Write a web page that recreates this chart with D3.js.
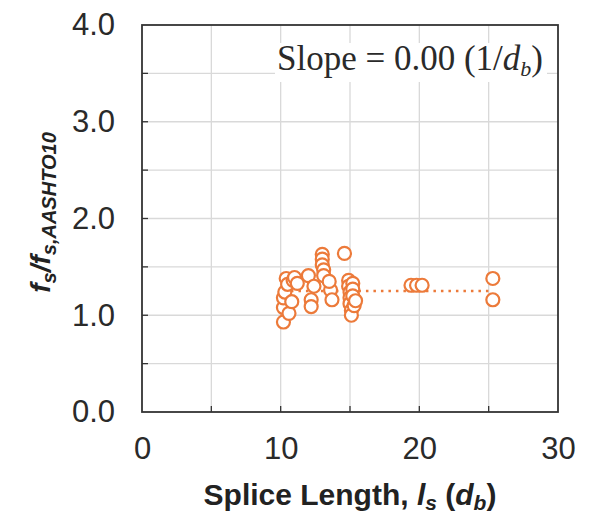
<!DOCTYPE html>
<html>
<head>
<meta charset="utf-8">
<script src="https://cdn.jsdelivr.net/npm/d3@7"></script>
<style>
  body { margin: 0; background: #fff; }
</style>
</head>
<body>
<script>
// svg size
var svgWidth = 592;
var svgHeight = 525;

// plot area
var margin = { top: 25, right: 34, bottom: 113, left: 142 };
var width = svgWidth - margin.left - margin.right;
var height = svgHeight - margin.top - margin.bottom;

// data
var spliceLength = [10.2, 10.2, 10.2, 10.3, 10.4, 10.5, 10.6, 10.8, 10.9, 11.0, 11.2,
  12.0, 12.2, 12.2, 12.4, 13.0, 13.0, 13.0, 13.1, 13.1, 13.6, 13.7, 13.5,
  14.6, 14.9, 14.9, 15.0, 15.0, 15.0, 15.1, 15.1, 15.2, 15.2, 15.2, 15.3, 15.4,
  19.4, 19.8, 20.2, 25.3, 25.3];
var stressRatio = [0.93, 1.08, 1.18, 1.24, 1.38, 1.32, 1.02, 1.14, 1.36, 1.39, 1.33,
  1.41, 1.16, 1.09, 1.30, 1.63, 1.58, 1.52, 1.47, 1.41, 1.26, 1.16, 1.35,
  1.64, 1.36, 1.30, 1.24, 1.18, 1.12, 1.05, 1.00, 1.33, 1.27, 1.20, 1.10, 1.15,
  1.31, 1.31, 1.31, 1.38, 1.16];
var trendValue = 1.25;
var trendRange = [10.2, 25.3];

var xTicks = [0, 10, 20, 30];
var xGrid = [5, 10, 15, 20, 25];
var yTicks = [0, 1, 2, 3, 4];
var yGrid = [0.5, 1, 1.5, 2, 2.5, 3, 3.5];

var orange = "#ec7a3a";
var sansFont = "'Liberation Sans', Arial, sans-serif";

var svg = d3.select("body")
  .append("svg")
  .attr("width", svgWidth)
  .attr("height", svgHeight);

var chartGroup = svg.append("g")
  .attr("transform", `translate(${margin.left}, ${margin.top})`);

var xScale = d3.scaleLinear().domain([0, 30]).range([0, width]);
var yScale = d3.scaleLinear().domain([0, 4]).range([height, 0]);

// grid lines
chartGroup.selectAll(".vgrid")
  .data(xGrid)
  .enter()
  .append("line")
  .attr("x1", d => xScale(d))
  .attr("x2", d => xScale(d))
  .attr("y1", 0)
  .attr("y2", height)
  .attr("stroke", "#d9d9d9")
  .attr("stroke-width", 1.3);

chartGroup.selectAll(".hgrid")
  .data(yGrid)
  .enter()
  .append("line")
  .attr("x1", 0)
  .attr("x2", width)
  .attr("y1", d => yScale(d))
  .attr("y2", d => yScale(d))
  .attr("stroke", "#d9d9d9")
  .attr("stroke-width", 1.3);

// slope label on a white box
chartGroup.append("rect")
  .attr("x", 133)
  .attr("y", 18)
  .attr("width", 272)
  .attr("height", 39)
  .attr("fill", "#fff");
var slopeText = chartGroup.append("text")
  .attr("x", width - 15)
  .attr("y", 45)
  .attr("text-anchor", "end")
  .attr("font-family", "'Liberation Serif', 'Times New Roman', serif")
  .attr("font-size", "35px")
  .attr("fill", "#2a2a2a");
slopeText.append("tspan").text("Slope = 0.00 (1/");
slopeText.append("tspan").attr("font-style", "italic").text("d");
slopeText.append("tspan").attr("font-style", "italic").attr("font-size", "22px").attr("dy", 6).text("b");
slopeText.append("tspan").attr("dy", -6).text(")");

// trend line
chartGroup.append("line")
  .attr("x1", xScale(trendRange[0]))
  .attr("x2", xScale(trendRange[1]))
  .attr("y1", yScale(trendValue))
  .attr("y2", yScale(trendValue))
  .attr("stroke", orange)
  .attr("stroke-width", 2.5)
  .attr("stroke-dasharray", "2.5,5");

// points
chartGroup.selectAll("circle")
  .data(spliceLength)
  .enter()
  .append("circle")
  .attr("cx", d => xScale(d))
  .attr("cy", (d, i) => yScale(stressRatio[i]))
  .attr("r", 6.5)
  .attr("fill", "#fff")
  .attr("stroke", orange)
  .attr("stroke-width", 2.2);

// axes
var bottomAxis = d3.axisBottom(xScale)
  .tickValues(xTicks)
  .tickFormat(d3.format("d"))
  .tickSize(0)
  .tickPadding(25);
var leftAxis = d3.axisLeft(yScale)
  .tickValues(yTicks)
  .tickFormat(d3.format(".1f"))
  .tickSize(0)
  .tickPadding(27);

var xAxis = chartGroup.append("g")
  .attr("transform", `translate(0, ${height})`)
  .call(bottomAxis);
var yAxis = chartGroup.append("g")
  .call(leftAxis);

[xAxis, yAxis].forEach(function(ax) {
  ax.select(".domain").remove();
  ax.selectAll("text")
    .attr("font-family", sansFont)
    .attr("font-size", "31px")
    .attr("fill", "#2a2a2a");
});

// inner tick marks
chartGroup.selectAll(".xtick")
  .data(xGrid)
  .enter()
  .append("line")
  .attr("x1", d => xScale(d))
  .attr("x2", d => xScale(d))
  .attr("y1", height)
  .attr("y2", height - 6)
  .attr("stroke", "#333")
  .attr("stroke-width", 1.3);
chartGroup.selectAll(".ytick")
  .data(yGrid)
  .enter()
  .append("line")
  .attr("x1", 0)
  .attr("x2", 6)
  .attr("y1", d => yScale(d))
  .attr("y2", d => yScale(d))
  .attr("stroke", "#333")
  .attr("stroke-width", 1.3);

// frame
chartGroup.append("rect")
  .attr("width", width)
  .attr("height", height)
  .attr("fill", "none")
  .attr("stroke", "#333")
  .attr("stroke-width", 1.8);

// x title
var xTitle = svg.append("text")
  .attr("x", margin.left + width / 2)
  .attr("y", 505)
  .attr("text-anchor", "middle")
  .attr("font-family", sansFont)
  .attr("font-weight", "bold")
  .attr("font-size", "30px")
  .attr("fill", "#222");
xTitle.append("tspan").text("Splice Length, ");
xTitle.append("tspan").attr("font-style", "italic").text("l");
xTitle.append("tspan").attr("font-style", "italic").attr("font-size", "21px").attr("dy", 5).text("s");
xTitle.append("tspan").attr("dy", -5).text(" (");
xTitle.append("tspan").attr("font-style", "italic").text("d");
xTitle.append("tspan").attr("font-style", "italic").attr("font-size", "21px").attr("dy", 5).text("b");
xTitle.append("tspan").attr("dy", -5).text(")");

// y title
var yTitle = svg.append("text")
  .attr("transform", `translate(50, ${margin.top + height / 2 - 6}) rotate(-90)`)
  .attr("text-anchor", "middle")
  .attr("font-family", sansFont)
  .attr("font-weight", "bold")
  .attr("font-style", "italic")
  .attr("font-size", "28px")
  .attr("fill", "#222");
yTitle.append("tspan").text("f");
yTitle.append("tspan").attr("font-size", "20px").attr("dy", 6).text("s");
yTitle.append("tspan").attr("dy", -6).text("/f");
yTitle.append("tspan").attr("font-size", "20px").attr("dy", 6).text("s,AASHTO10");
</script>
</body>
</html>
